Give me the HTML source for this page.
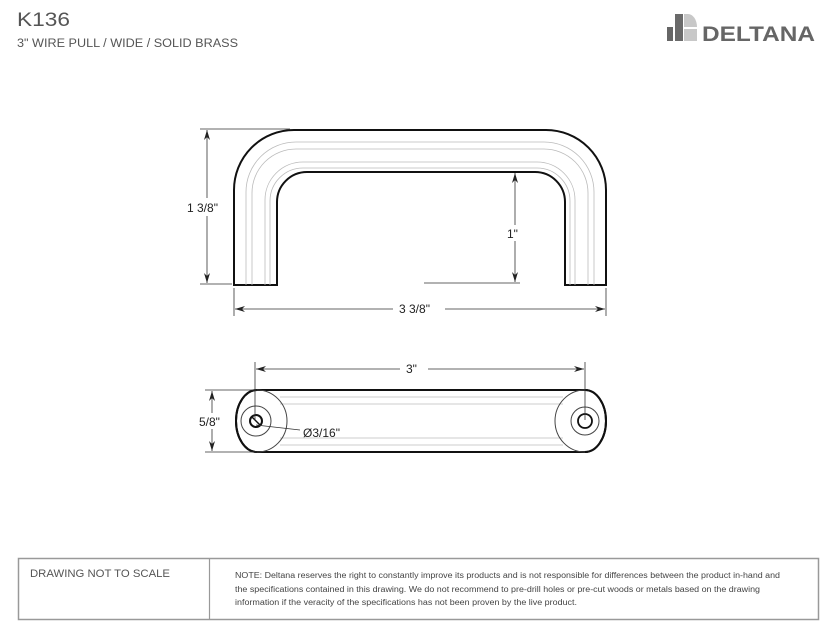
<!DOCTYPE html>
<html><head><style>
body{margin:0;background:#fff;width:832px;height:633px;overflow:hidden;font-family:"Liberation Sans",sans-serif;position:relative}
</style></head><body>
<svg width="832" height="633" style="position:absolute;left:0;top:0" font-family="Liberation Sans, sans-serif">
<defs><marker id="a" viewBox="0 0 10 6" refX="10" refY="3" markerWidth="10" markerHeight="6" orient="auto-start-reverse" markerUnits="userSpaceOnUse"><path d="M0,0L10,3L0,6L3,3z" fill="#222"/></marker></defs>
<text x="17" y="26" font-size="19" fill="#555" textLength="53" lengthAdjust="spacingAndGlyphs">K136</text>
<text x="17" y="47" font-size="11.5" fill="#555" textLength="221" lengthAdjust="spacingAndGlyphs">3" WIRE PULL / WIDE / SOLID BRASS</text>
<!-- logo -->
<rect x="667" y="27" width="6" height="14" fill="#666"/>
<rect x="675" y="14" width="8" height="27" fill="#6a6a6a"/>
<path d="M684,14 H688 A9,13 0 0 1 697,27 H684 Z" fill="#c8c8c8"/>
<rect x="684" y="29" width="13" height="12" fill="#c8c8c8"/>
<text x="702" y="41" font-size="21" font-weight="bold" fill="#666" textLength="113" lengthAdjust="spacingAndGlyphs">DELTANA</text>
<!-- top view -->
<path d="M234,285 V190 A60,60 0 0 1 294,130 H546 A60,60 0 0 1 606,190 V285 H565 V202 A30,30 0 0 0 535,172 H307 A30,30 0 0 0 277,202 V285 Z" fill="#fff" stroke="#111" stroke-width="2"/>
<g fill="none" stroke="#bbb" stroke-width="0.8">
<path d="M246,285 V192 A50,50 0 0 1 296,142 H544 A50,50 0 0 1 594,192 V285"/>
<path d="M252,285 V193 A44,44 0 0 1 296,149 H544 A44,44 0 0 1 588,193 V285"/>
<path d="M265,285 V200 A38,38 0 0 1 303,162 H537 A38,38 0 0 1 575,200 V285"/>
<path d="M270,285 V201 A33,33 0 0 1 303,168 H537 A33,33 0 0 1 570,201 V285"/>
</g>
<g stroke="#333" stroke-width="0.8" fill="none">
<line x1="200" y1="129" x2="290" y2="129"/>
<line x1="200" y1="284" x2="232" y2="284"/>
<line x1="207" y1="130" x2="207" y2="283" marker-start="url(#a)" marker-end="url(#a)"/>
<line x1="424" y1="283" x2="520" y2="283"/>
<line x1="515" y1="173" x2="515" y2="282" marker-start="url(#a)" marker-end="url(#a)"/>
<line x1="234" y1="288" x2="234" y2="316"/>
<line x1="606" y1="288" x2="606" y2="316"/>
<line x1="235" y1="309" x2="393" y2="309" marker-start="url(#a)"/>
<line x1="445" y1="309" x2="605" y2="309" marker-end="url(#a)"/>
</g>
<rect x="183" y="198" width="42" height="18" fill="#fff"/>
<text x="187" y="212" font-size="12" fill="#222">1 3/8"</text>
<rect x="505" y="225" width="20" height="16" fill="#fff"/>
<text x="507" y="238" font-size="12" fill="#222">1"</text>
<text x="399" y="313" font-size="12" fill="#222">3 3/8"</text>
<!-- bottom view -->
<path d="M257,390 H585 A21,31 0 0 1 585,452 H257 A21,31 0 0 1 257,390 Z" fill="#fff" stroke="#111" stroke-width="2"/>
<g fill="none" stroke="#bbb" stroke-width="0.8">
<line x1="280" y1="397" x2="563" y2="397"/><line x1="280" y1="404" x2="563" y2="404"/>
<line x1="280" y1="438" x2="563" y2="438"/><line x1="280" y1="445" x2="563" y2="445"/>
</g>
<path d="M257,390 A30,31 0 0 1 257,452" fill="none" stroke="#444" stroke-width="1"/>
<path d="M585,390 A30,31 0 0 0 585,452" fill="none" stroke="#444" stroke-width="1"/>
<path d="M257,390 A21,31 0 0 0 257,452" fill="none" stroke="#111" stroke-width="2"/>
<path d="M585,390 A21,31 0 0 1 585,452" fill="none" stroke="#111" stroke-width="2"/>
<circle cx="256" cy="421" r="15" fill="none" stroke="#444" stroke-width="1"/>
<circle cx="256" cy="421" r="6" fill="none" stroke="#111" stroke-width="2"/>
<line x1="252" y1="417" x2="260" y2="425" stroke="#111" stroke-width="1.5"/>
<circle cx="585" cy="421" r="14" fill="none" stroke="#444" stroke-width="1"/>
<circle cx="585" cy="421" r="7" fill="none" stroke="#111" stroke-width="1.8"/>
<g stroke="#333" stroke-width="0.8" fill="none">
<line x1="255" y1="362" x2="255" y2="420"/>
<line x1="585" y1="362" x2="585" y2="420"/>
<line x1="256" y1="369" x2="400" y2="369" marker-start="url(#a)"/>
<line x1="428" y1="369" x2="584" y2="369" marker-end="url(#a)"/>
<line x1="205" y1="390" x2="257" y2="390"/>
<line x1="205" y1="452" x2="257" y2="452"/>
<line x1="212" y1="391" x2="212" y2="451" marker-start="url(#a)" marker-end="url(#a)"/>
<line x1="256" y1="425" x2="300" y2="430"/>
</g>
<text x="406" y="373" font-size="12" fill="#222">3"</text>
<rect x="198" y="413" width="28" height="16" fill="#fff"/>
<text x="199" y="426" font-size="12" fill="#222">5/8"</text>
<text x="303" y="437" font-size="12" fill="#222">Ø3/16"</text>
<!-- footer -->
<rect x="18.5" y="558.5" width="800" height="61" fill="none" stroke="#999" stroke-width="1.5"/>
<line x1="209.5" y1="558" x2="209.5" y2="620" stroke="#999" stroke-width="1.2"/>
<text x="30" y="577" font-size="11" fill="#555" textLength="140" lengthAdjust="spacingAndGlyphs">DRAWING NOT TO SCALE</text>
<g font-size="7.8" fill="#444">
<text x="235" y="578" textLength="545" lengthAdjust="spacingAndGlyphs">NOTE: Deltana reserves the right to constantly improve its products and is not responsible for differences between the product in-hand and</text>
<text x="235" y="592" textLength="525" lengthAdjust="spacingAndGlyphs">the specifications contained in this drawing. We do not recommend to pre-drill holes or pre-cut woods or metals based on the drawing</text>
<text x="235" y="605" textLength="342" lengthAdjust="spacingAndGlyphs">information if the veracity of the specifications has not been proven by the live product.</text>
</g>
</svg>
</body></html>
